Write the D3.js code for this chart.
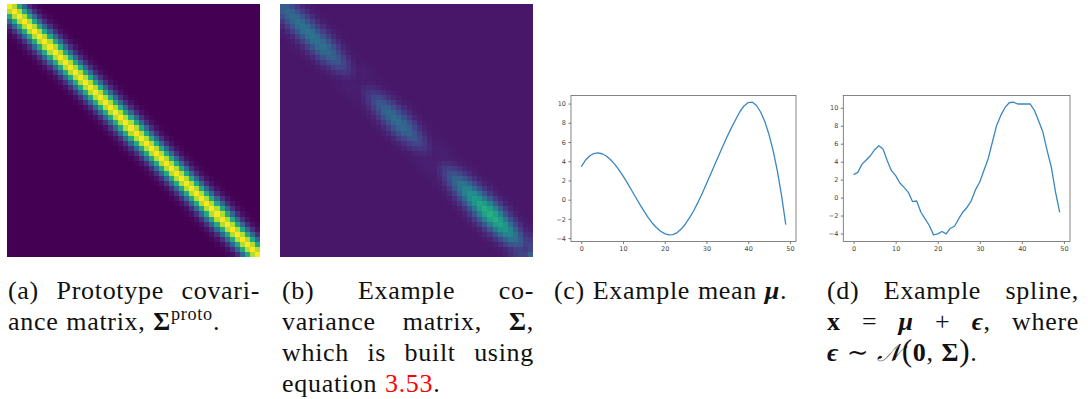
<!DOCTYPE html>
<html><head><meta charset="utf-8">
<script src="https://cdn.jsdelivr.net/npm/d3@7"></script>
<style>html,body{margin:0;padding:0;background:#fff;} svg{display:block}</style>
</head><body>
<svg id="fig" width="1088" height="399"></svg>
<script>
// ---------------- DATA ----------------
const matrixSize = 50;
// (a) prototype covariance: value by distance from diagonal |i-j|
const protoBandProfile = [1.0, 0.88, 0.6, 0.33, 0.14, 0.045, 0.012];
// (b) example covariance: diagonal variance per row and band profile by |i-j|
const exampleDiagVariance = [
  0.250, 0.275, 0.300, 0.318, 0.332, 0.340, 0.340, 0.332, 0.315, 0.290,
  0.255, 0.205, 0.145, 0.084, 0.031, 0.010, 0.040, 0.090, 0.150, 0.210,
  0.258, 0.290, 0.308, 0.308, 0.290, 0.258, 0.210, 0.150, 0.090, 0.040,
  0.018, 0.050, 0.112, 0.185, 0.262, 0.340, 0.404, 0.468, 0.521, 0.563,
  0.595, 0.606, 0.595, 0.563, 0.500, 0.414, 0.318, 0.212, 0.116, 0.255
];
const exampleBandProfile = [1.0, 0.9, 0.66, 0.4, 0.2, 0.08, 0.025];
const exampleColorDomain = [-0.065, 1.0];
// (c) example mean
const meanValues = [
  3.45, 4.10, 4.55, 4.80, 4.87, 4.78, 4.55, 4.18, 3.70, 3.12,
  2.47, 1.77, 1.03, 0.28, -0.46, -1.17, -1.83, -2.42, -2.90, -3.28,
  -3.53, -3.66, -3.64, -3.42, -3.03, -2.50, -1.85, -1.10, -0.25, 0.68,
  1.65, 2.65, 3.65, 4.65, 5.65, 6.60, 7.50, 8.35, 9.15, 9.75,
  10.10, 10.15, 9.80, 9.10, 8.10, 6.75, 5.05, 2.95, 0.40, -2.60
];
// (d) example spline
const splineValues = [
  2.56, 2.81, 3.73, 4.18, 4.66, 5.33, 5.78, 5.40, 4.11, 3.00,
  2.44, 1.62, 1.14, 0.59, -0.44, -0.38, -1.63, -2.37, -3.11, -4.15,
  -4.04, -3.78, -4.04, -3.41, -3.19, -2.35, -1.60, -1.07, -0.33, 0.89,
  1.74, 3.04, 4.33, 6.19, 8.04, 9.15, 10.04, 10.56, 10.63, 10.42,
  10.42, 10.42, 10.42, 9.70, 8.52, 7.30, 5.26, 3.41, 0.63, -1.65
];
const yTickValues = [-4, -2, 0, 2, 4, 6, 8, 10];
const xTickValues = [0, 10, 20, 30, 40, 50];

// captions: lines of words; each word = list of [text, style]
const captionA = [
  [[["(a)"]], [["Prototype"]], [["covari-"]]],
  [[["ance"]], [["matrix,"]], [["Σ","b"],["proto","sup"],[".","n"]]]
];
const captionB = [
  [[["(b)"]], [["Example"]], [["co-"]]],
  [[["variance"]], [["matrix,"]], [["Σ","b"],[",","n"]]],
  [[["which"]], [["is"]], [["built"]], [["using"]]],
  [[["equation"]], [["3.53","red"],[".","n"]]]
];
const captionC = [
  [[["(c)"]], [["Example"]], [["mean"]], [["μ","bi"],[".","n"]]]
];
const captionD = [
  [[["(d)"]], [["Example"]], [["spline,"]]],
  [[["x","b"]], [["="]], [["μ","bi"]], [["+"]], [["ϵ","bi"],[",","n"]], [["where"]]],
  [[["ϵ","bi"]], [["∼"]], [["𝒩","cal"],["(","big"],["0","b"],[",","n"]], [["Σ","b"],[")","big"],[".","n"]]]
];

// ---------------- DRAW ----------------
const svg = d3.select("#fig");
svg.append("rect").attr("width",1088).attr("height",399).attr("fill","#fff");

function heatmap(left, top, size, valueAt, color) {
  const x = d3.scaleBand().domain(d3.range(matrixSize)).range([left, left + size]);
  const y = d3.scaleBand().domain(d3.range(matrixSize)).range([top, top + size]);
  const cells = [];
  for (let i = 0; i < matrixSize; i++)
    for (let j = 0; j < matrixSize; j++) cells.push({i, j, v: valueAt(i, j)});
  svg.append("g").attr("shape-rendering", "crispEdges")
    .selectAll("rect").data(cells).join("rect")
    .attr("x", d => Math.round(x(d.j))).attr("y", d => Math.round(y(d.i)))
    .attr("width", d => Math.round(x(d.j) + x.bandwidth()) - Math.round(x(d.j)))
    .attr("height", d => Math.round(y(d.i) + y.bandwidth()) - Math.round(y(d.i)))
    .attr("fill", d => color(d.v));
}

const colorA = d3.scaleSequential(d3.interpolateViridis).domain([0, 1]);
heatmap(7, 4, 253, (i, j) => {
  const d = Math.abs(i - j);
  return d < protoBandProfile.length ? protoBandProfile[d] : 0;
}, colorA);

const colorB = d3.scaleSequential(d3.interpolateViridis).domain(exampleColorDomain);
heatmap(280, 4, 253, (i, j) => {
  const d = Math.abs(i - j);
  const k = d < exampleBandProfile.length ? exampleBandProfile[d] : 0;
  return Math.sqrt(exampleDiagVariance[i] * exampleDiagVariance[j]) * k;
}, colorB);

function linePlot(left, right, top, bottom, values) {
  const n = values.length;
  const xm = (n - 1) * 0.05;
  const [lo, hi] = d3.extent(values);
  const ym = (hi - lo) * 0.05;
  const x = d3.scaleLinear().domain([-xm, n - 1 + xm]).range([left, right]);
  const y = d3.scaleLinear().domain([lo - ym, hi + ym]).range([bottom, top]);
  const g = svg.append("g");
  const ax = g.append("g").attr("transform", `translate(0,${bottom})`)
    .call(d3.axisBottom(x).tickValues(xTickValues).tickSize(2.5).tickPadding(2));
  const ay = g.append("g").attr("transform", `translate(${left},0)`)
    .call(d3.axisLeft(y).tickValues(yTickValues).tickSize(2.5).tickPadding(2.5));
  [ax, ay].forEach(a => {
    a.select(".domain").remove();
    a.selectAll("line").attr("stroke", "#444").attr("stroke-width", 0.7);
    a.selectAll("text").attr("font-family", "DejaVu Sans").attr("font-size", 6.5).attr("fill", "#444");
  });
  g.append("path").datum(values)
    .attr("fill", "none").attr("stroke", "#3a87c0").attr("stroke-width", 1.3)
    .attr("stroke-linejoin", "round")
    .attr("d", d3.line().x((d, i) => x(i)).y(d => y(d)));
  g.append("rect").attr("x", left).attr("y", top)
    .attr("width", right - left).attr("height", bottom - top)
    .attr("fill", "none").attr("stroke", "#666").attr("stroke-width", 0.8);
}
linePlot(571, 796, 95.5, 241.5, meanValues);
linePlot(843.3, 1070, 95.5, 241.5, splineValues);

// captions
const FS = 26, baseline0 = 299, lineStep = 31.1;
const serif = "'Liberation Serif', 'DejaVu Serif', serif";
function addWord(g, segs) {
  const t = g.append("text").attr("font-family", serif).attr("font-size", FS)
    .attr("letter-spacing", 0.7).attr("fill", "#111");
  let raised = false;
  segs.forEach(([txt, st]) => {
    const s = t.append("tspan").text(txt);
    if (raised && st !== "sup") { s.attr("dy", 10); raised = false; }
    if (st === "b") s.attr("font-weight", "bold");
    if (st === "bi") s.attr("font-weight", "bold").attr("font-style", "italic");
    if (st === "red") s.attr("fill", "#ff0000");
    if (st === "sup") { s.attr("font-size", FS * 0.7).attr("dy", -10); raised = true; }
    if (st === "big") s.attr("font-size", FS * 1.2);
    if (st === "cal") s.attr("font-family", "'DejaVu Sans', 'Noto Sans', serif").attr("font-style", "italic").attr("font-size", FS * 0.95);
  });
  return t;
}
function caption(x0, x1, lines) {
  const g = svg.append("g");
  lines.forEach((words, li) => {
    const y = baseline0 + li * lineStep;
    const texts = words.map(w => addWord(g, w).attr("y", y));
    const widths = texts.map(t => t.node().getComputedTextLength());
    const total = d3.sum(widths);
    const natural = FS * 0.3;
    const last = li === lines.length - 1;
    const gap = (!last && words.length > 1) ? (x1 - x0 - total) / (words.length - 1) : natural;
    let cx = x0;
    texts.forEach((t, k) => { t.attr("x", cx); cx += widths[k] + gap; });
  });
}
caption(8, 260, captionA);
caption(282, 534, captionB);
caption(554, 805, captionC);
caption(827, 1079, captionD);
</script>
</body></html>
